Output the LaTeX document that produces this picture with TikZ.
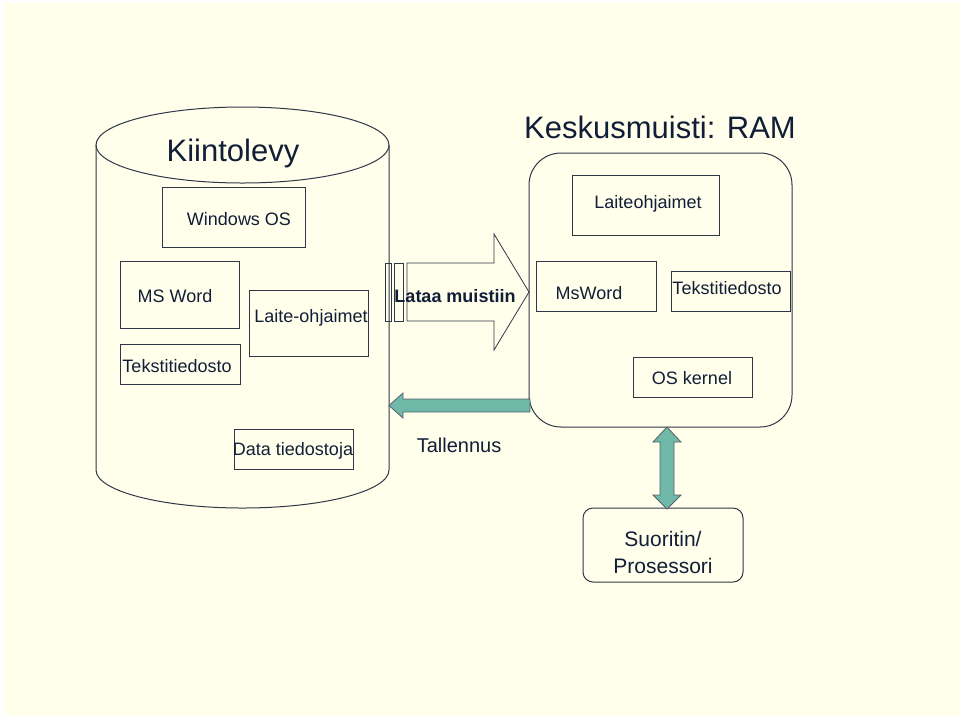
\documentclass[tikz,border=0pt]{standalone}
\usepackage{fontspec}
\setmainfont{Liberation Sans}
\usetikzlibrary{positioning}

\definecolor{tausta}{RGB}{255,255,236}
\definecolor{viiva}{RGB}{45,55,70}
\definecolor{teksti}{RGB}{18,30,55}
\definecolor{turkoosi}{RGB}{112,184,168}
\newcommand\koko[1]{\fontsize{#1}{#1}\selectfont}

\tikzset{
  laatikko/.style={draw=viiva, line width=1pt, inner sep=0pt, text=teksti, font=\koko{18}},
  nimi/.style={inner sep=0pt, text=teksti, font=\koko{18}},
  otsikko/.style={inner sep=0pt, text=teksti, font=\koko{31}},
  nuoli/.style={draw=viiva!80, fill=turkoosi, line width=0.8pt}
}

\begin{document}
\begin{tikzpicture}[x=1pt,y=-1pt]
		\useasboundingbox (0,0) rectangle (960,716);
		\fill[white] (0,0) rectangle (960,716);
		\fill[tausta] (4,3) rectangle (960,716);
		
		% kiintolevy
		\draw[viiva, line width=1pt] (96,145) -- (96,470) arc (180:0:146.5 and 38) -- (389,145);
		\draw[viiva, line width=1pt] (242.5,145) ellipse (146.5 and 38);
		\node[otsikko] (kiinto) at (233,153) {Kiintolevy};
		
		\node[laatikko, minimum width=143, minimum height=60] (winos) at (233.5,217) {};
		\node[nimi] (winost) at (239,219) {Windows OS};
		\node[laatikko, minimum width=119, minimum height=67] (msword1) at (179.5,294.5) {};
		\node[nimi] (msword1t) at (175,296) {MS Word};
		\node[laatikko, minimum width=119, minimum height=66] (laite1) at (308.5,323) {};
		\node[nimi] (laite1t) at (311,318) {Laite-ohjaimet};
		\node[laatikko, minimum width=120, minimum height=40] (teksti1) at (180,364) {};
		\node[nimi] (teksti1t) at (177,366) {Tekstitiedosto};
		\node[laatikko, minimum width=119, minimum height=40] (data) at (293.5,449) {};
		\node[nimi] (datat) at (293,451) {Data tiedostoja};
		
		% keskusmuisti
		\draw[viiva, line width=1pt, rounded corners=32pt] (529,153) rectangle (792,427);
		\node[otsikko] (keskus) at (660,127) {Keskusmuisti: RAM};
		
		\node[laatikko, minimum width=147, minimum height=60] (laite2) at (645.5,205) {};
		\node[nimi] (laite2t) at (648,204) {Laiteohjaimet};
		\node[laatikko, minimum width=120, minimum height=50] (msword2) at (596,286) {};
		\node[nimi] (msword2t) at (589,293) {MsWord};
		\node[laatikko, minimum width=119, minimum height=40] (teksti2) at (730.5,291) {};
		\node[nimi] (teksti2t) at (727,288) {Tekstitiedosto};
		\node[laatikko, minimum width=119, minimum height=40] (kernel) at (692.5,377) {};
		\node[nimi] (kernelt) at (692,378) {OS kernel};
		
		% suoritin
		\node[laatikko, rounded corners=10pt, minimum width=160, minimum height=74] (cpu) at (663,545) {};
		\node[nimi, align=center, font=\fontsize{21}{27}\selectfont] (cput) at (663,552) {Suoritin/\\Prosessori};
		
		% lataa muistiin
		\draw[viiva, line width=0.8pt] (385,263) rectangle (391,321);
		\draw[viiva, line width=0.8pt] (394,263) rectangle (403,321);
		\draw[viiva, line width=0.8pt] (407,263) -- (494,263) -- (494,234) -- (529,292)
		      -- (494,350) -- (494,321) -- (407,321) -- cycle;
		\node[nimi, font=\bfseries\koko{18}] (lataa) at (455,296) {Lataa muistiin};
		
		% tallennus
		\draw[nuoli] (530,399) -- (403,399) -- (403,393) -- (389,405.5) -- (403,418)
		      -- (403,412) -- (530,412) -- cycle;
		\node[nimi, font=\koko{20}] (tallennus) at (459,445) {Tallennus};
		
		% vayla
		\draw[nuoli] (667,427) -- (681,442) -- (674,442) -- (674,495) -- (681,495) -- (667,509)
		      -- (653,495) -- (660,495) -- (660,442) -- (653,442) -- cycle;
		
		\end{tikzpicture}
\end{document}
